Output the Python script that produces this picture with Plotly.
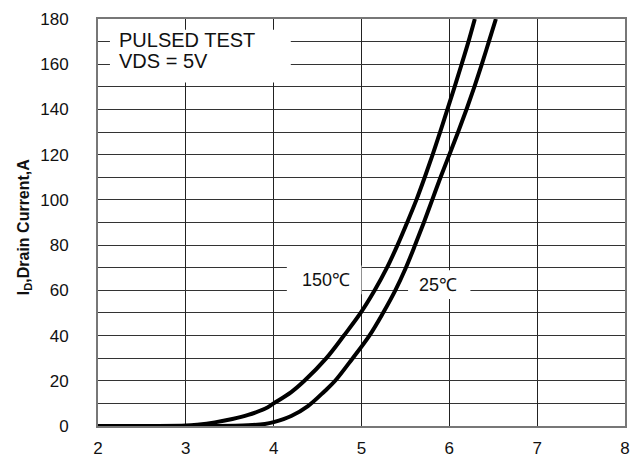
import plotly.graph_objects as go

# 150 °C curve (VGS, ID)
vgs_150 = [2.0, 2.6, 3.0, 3.13, 3.33, 3.53, 3.71, 3.90, 4.0, 4.20, 4.35, 4.60, 4.80, 4.99, 5.15, 5.29, 5.41, 5.52, 5.625, 5.72, 5.81, 5.895, 5.978, 6.06, 6.14, 6.218, 6.29]
id_150 = [0.0, 0.0, 0.2, 0.6, 1.6, 3.1, 4.9, 7.6, 10, 15.0, 20, 30, 40, 50, 60, 70, 80, 90, 100, 110, 120, 130, 140, 150, 160, 170, 180]

# 25 °C curve (VGS, ID)
vgs_25 = [2.0, 3.0, 3.3, 3.71, 3.90, 4.0, 4.20, 4.39, 4.58, 4.70, 4.90, 5.09, 5.245, 5.385, 5.505, 5.61, 5.71, 5.805, 5.90, 6.00, 6.10, 6.195, 6.285, 6.37, 6.45, 6.53]
id_25 = [0.0, 0.0, 0.0, 0.3, 0.9, 1.7, 4.4, 8.8, 15.4, 20, 30, 40, 50, 60, 70, 80, 90, 100, 110, 120, 130, 140, 150, 160, 170, 180]

x_ticks = [2, 3, 4, 5, 6, 7, 8]
y_ticks = [0, 20, 40, 60, 80, 100, 120, 140, 160, 180]

FONT = "Liberation Sans, Arial, sans-serif"

fig = go.Figure()
for xs, ys in [(vgs_150, id_150), (vgs_25, id_25)]:
    fig.add_trace(go.Scatter(x=xs, y=ys, mode="lines",
                             line=dict(color="black", width=4, shape="spline", smoothing=1.0),
                             showlegend=False, hoverinfo="skip"))

# white label boxes (between grid and traces)
boxes = [(2.136, 4.195, 151.9, 175.3), (4.15, 5.0, 58.3, 71.0), (5.53, 6.24, 56.2, 68.9)]
for x0, x1, y0, y1 in boxes:
    fig.add_shape(type="rect", x0=x0, x1=x1, y0=y0, y1=y1, xref="x", yref="y",
                  fillcolor="white", line=dict(width=0), layer="between")

fig.add_annotation(x=2.22, y=170.5, text="PULSED TEST", showarrow=False, xanchor="left",
                   yanchor="middle", font=dict(family=FONT, size=20, color="#111"))
fig.add_annotation(x=2.22, y=161.5, text="VDS = 5V", showarrow=False, xanchor="left",
                   yanchor="middle", font=dict(family=FONT, size=20, color="#111"))
fig.add_annotation(x=4.60, y=64.7, text="150℃", showarrow=False, xanchor="center",
                   yanchor="middle", font=dict(family=FONT, size=18, color="#111"))
fig.add_annotation(x=5.87, y=62.3, text="25℃", showarrow=False, xanchor="center",
                   yanchor="middle", font=dict(family=FONT, size=18, color="#111"))

# y axis title
fig.add_annotation(xref="paper", yref="paper", x=-(98 - 24) / 532, y=0.49,
                   text="<b>I<sub>D</sub>,Drain Current,A</b>", textangle=-90, showarrow=False,
                   xanchor="center", yanchor="middle",
                   font=dict(family=FONT, size=16, color="#111"))

fig.update_layout(
    width=640, height=468,
    margin=dict(l=98, r=10, t=14, b=30),
    paper_bgcolor="white", plot_bgcolor="white",
    font=dict(family=FONT, size=17, color="#111"),
)
fig.update_xaxes(range=[2, 8], tickvals=x_ticks, ticktext=[str(v) for v in x_ticks],
                 tickfont=dict(family=FONT, size=17, color="#111"),
                 showgrid=True, gridcolor="#222", gridwidth=1,
                 showline=True, linecolor="#777", linewidth=2, mirror=True,
                 zeroline=False, ticks="", ticklabelstandoff=6)
fig.update_yaxes(range=[0, 180], tickvals=y_ticks, ticktext=[str(v) for v in y_ticks],
                 tickfont=dict(family=FONT, size=17, color="#111"),
                 showgrid=True, gridcolor="#333", gridwidth=1,
                 minor=dict(dtick=10, tick0=0, showgrid=True, gridcolor="#333", gridwidth=1),
                 showline=True, linecolor="#777", linewidth=2, mirror=True,
                 zeroline=False, ticks="", ticklabelstandoff=24)

fig.write_html("out.html", config={"displayModeBar": False},
               post_script="document.body.style.margin='0';")
